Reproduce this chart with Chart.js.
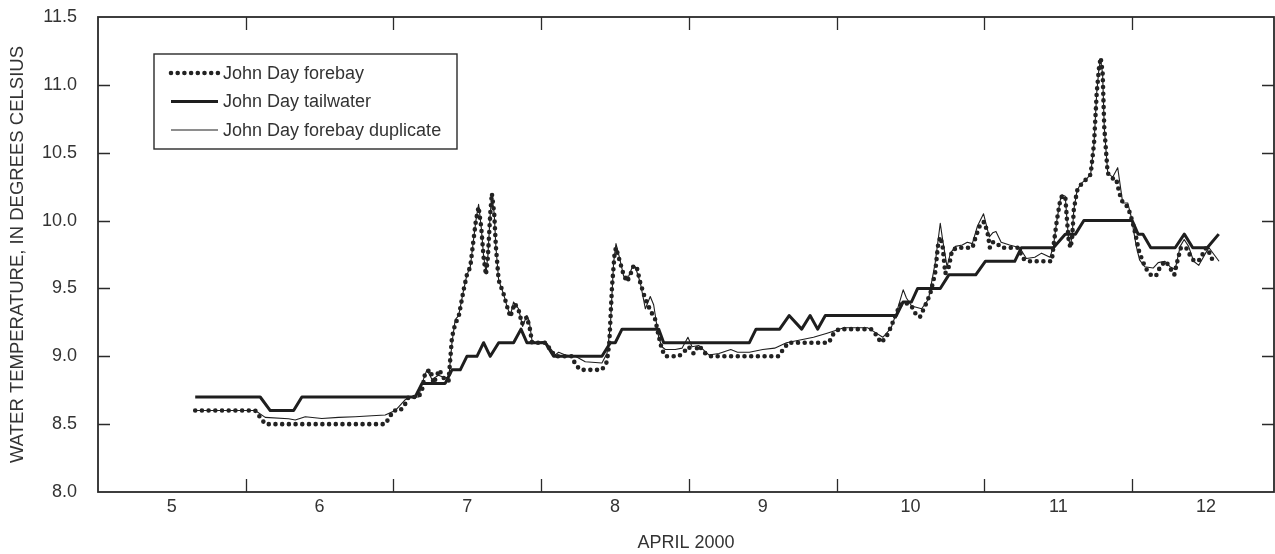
<!DOCTYPE html>
<html>
<head>
<meta charset="utf-8">
<script src="https://cdn.jsdelivr.net/npm/chart.js@4.4.1/dist/chart.umd.min.js"></script>
<style>
html,body{margin:0;padding:0;background:#ffffff;}
#wrap{width:1275px;height:554px;position:relative;}
</style>
</head>
<body>
<div id="wrap"><canvas id="c" width="1275" height="554"></canvas></div>
<script>
// ---- axis labels / ticks ----
const dayLabels = ['5','6','7','8','9','10','11','12'];
const dayLabelPos = [5.5, 6.5, 7.5, 8.5, 9.5, 10.5, 11.5, 12.5];
const dayBoundaries = [6, 7, 8, 9, 10, 11, 12];
const tempTicks = [8.0, 8.5, 9.0, 9.5, 10.0, 10.5, 11.0, 11.5];
const xMin = 5, xMax = 12.96;
const yMin = 8.0, yMax = 11.5;

// ---- John Day tailwater (day of April 2000, deg C) ----
const tailDay = [5.658,6.098,6.166,6.324,6.380,7.147,7.193,7.350,7.396,7.452,7.497,7.565,7.610,7.655,7.712,7.813,7.863,7.903,8.028,8.084,8.411,8.468,8.501,8.547,8.795,8.829,9.409,9.454,9.614,9.678,9.763,9.820,9.871,9.923,10.404,10.449,10.506,10.548,10.701,10.759,10.941,11.006,11.205,11.250,11.467,11.547,11.616,11.673,12.000,12.040,12.073,12.126,12.291,12.353,12.410,12.508,12.586];
const tailTemp = [8.7,8.7,8.6,8.6,8.7,8.7,8.8,8.8,8.9,8.9,9.0,9.0,9.1,9.0,9.1,9.1,9.2,9.1,9.1,9.0,9.0,9.1,9.1,9.2,9.2,9.1,9.1,9.2,9.2,9.3,9.2,9.3,9.2,9.3,9.3,9.4,9.4,9.5,9.5,9.6,9.6,9.7,9.7,9.8,9.8,9.9,9.9,10.0,10.0,9.9,9.9,9.8,9.8,9.9,9.8,9.8,9.9];

// ---- John Day forebay ----
const foreDay = [5.658,6.064,6.132,6.944,6.967,7.000,7.046,7.080,7.102,7.170,7.193,7.215,7.250,7.272,7.310,7.350,7.373,7.396,7.418,7.441,7.475,7.497,7.520,7.542,7.558,7.576,7.594,7.610,7.626,7.639,7.655,7.666,7.682,7.693,7.712,7.745,7.768,7.791,7.820,7.847,7.870,7.903,7.926,7.937,7.982,8.028,8.061,8.095,8.208,8.231,8.265,8.411,8.445,8.461,8.479,8.497,8.506,8.524,8.558,8.581,8.603,8.626,8.648,8.671,8.705,8.738,8.772,8.795,8.817,8.840,8.930,8.964,8.998,9.032,9.066,9.112,9.146,9.603,9.638,9.672,9.947,9.980,10.015,10.233,10.266,10.300,10.335,10.369,10.404,10.438,10.473,10.506,10.541,10.564,10.598,10.633,10.666,10.685,10.701,10.717,10.735,10.759,10.781,10.815,10.919,10.941,10.975,10.999,11.021,11.037,11.056,11.079,11.113,11.227,11.261,11.296,11.456,11.467,11.490,11.513,11.525,11.547,11.559,11.570,11.582,11.593,11.605,11.627,11.650,11.685,11.719,11.742,11.760,11.776,11.787,11.800,11.811,11.834,11.868,11.891,11.914,11.937,11.971,12.000,12.022,12.045,12.068,12.091,12.126,12.160,12.194,12.228,12.262,12.285,12.308,12.330,12.365,12.399,12.421,12.456,12.501,12.524,12.547];
const foreTemp = [8.6,8.6,8.5,8.5,8.54,8.6,8.6,8.65,8.7,8.7,8.75,8.88,8.9,8.8,8.9,8.82,8.82,9.14,9.24,9.29,9.49,9.6,9.66,9.86,10.0,10.1,9.95,9.73,9.6,9.73,10.05,10.2,10.05,9.81,9.56,9.46,9.37,9.29,9.39,9.34,9.24,9.29,9.19,9.1,9.1,9.1,9.05,9.0,9.0,8.94,8.9,8.9,8.96,9.1,9.51,9.76,9.8,9.73,9.6,9.55,9.6,9.67,9.65,9.54,9.42,9.34,9.27,9.15,9.05,9.0,9.0,9.03,9.07,9.02,9.08,9.02,9.0,9.0,9.05,9.1,9.1,9.17,9.2,9.2,9.16,9.1,9.14,9.22,9.32,9.39,9.39,9.37,9.3,9.29,9.37,9.46,9.61,9.81,9.88,9.81,9.61,9.66,9.78,9.8,9.8,9.88,9.98,9.99,9.91,9.8,9.84,9.84,9.8,9.8,9.72,9.7,9.7,9.81,10.0,10.15,10.18,10.18,10.0,9.86,9.8,9.86,10.08,10.22,10.26,10.3,10.34,10.57,10.94,11.13,11.2,11.09,10.69,10.35,10.31,10.31,10.2,10.13,10.1,10.0,9.9,9.78,9.71,9.65,9.6,9.59,9.67,9.7,9.64,9.6,9.71,9.8,9.8,9.73,9.7,9.71,9.8,9.76,9.7];

// ---- John Day forebay duplicate ----
const dupDay = [5.658,6.064,6.132,6.290,6.335,6.403,6.515,6.628,6.741,6.854,6.944,7.012,7.080,7.113,7.170,7.193,7.226,7.260,7.305,7.350,7.375,7.396,7.418,7.441,7.475,7.497,7.520,7.542,7.558,7.576,7.594,7.610,7.626,7.639,7.655,7.666,7.682,7.693,7.712,7.745,7.768,7.791,7.813,7.847,7.874,7.903,7.919,7.937,7.960,8.028,8.061,8.095,8.118,8.163,8.231,8.298,8.411,8.445,8.468,8.490,8.506,8.529,8.558,8.592,8.614,8.637,8.671,8.705,8.738,8.761,8.795,8.817,8.840,8.908,8.953,8.993,9.021,9.066,9.134,9.203,9.283,9.329,9.409,9.500,9.580,9.660,9.752,9.843,9.935,10.049,10.209,10.255,10.312,10.369,10.404,10.450,10.472,10.507,10.575,10.621,10.667,10.701,10.717,10.747,10.770,10.804,10.850,10.884,10.918,10.953,10.994,11.033,11.056,11.078,11.113,11.170,11.239,11.284,11.341,11.387,11.444,11.467,11.490,11.513,11.525,11.547,11.559,11.570,11.582,11.593,11.605,11.627,11.650,11.685,11.719,11.742,11.760,11.776,11.787,11.800,11.811,11.834,11.845,11.868,11.902,11.936,11.970,11.993,12.028,12.050,12.085,12.142,12.176,12.222,12.256,12.291,12.325,12.352,12.382,12.416,12.451,12.497,12.520,12.554,12.588];
const dupTemp = [8.6,8.6,8.55,8.54,8.53,8.555,8.542,8.55,8.555,8.562,8.567,8.6,8.68,8.7,8.7,8.8,8.9,8.83,8.86,8.84,8.85,9.1,9.27,9.3,9.49,9.6,9.66,9.86,10.0,10.12,9.95,9.74,9.62,9.74,10.05,10.19,10.05,9.81,9.56,9.46,9.37,9.3,9.4,9.35,9.22,9.3,9.26,9.12,9.1,9.11,9.06,9.01,9.03,9.01,9.0,8.96,8.95,9.02,9.22,9.69,9.83,9.73,9.59,9.59,9.65,9.66,9.54,9.35,9.44,9.38,9.14,9.07,9.05,9.05,9.06,9.14,9.07,9.08,9.01,9.02,9.05,9.03,9.03,9.05,9.06,9.1,9.12,9.14,9.17,9.21,9.21,9.18,9.14,9.21,9.32,9.49,9.43,9.37,9.35,9.42,9.69,9.98,9.86,9.66,9.76,9.81,9.82,9.84,9.83,9.96,10.05,9.88,9.91,9.92,9.84,9.82,9.8,9.72,9.73,9.76,9.73,9.81,10.0,10.15,10.19,10.18,10.0,9.86,9.82,9.88,10.08,10.22,10.27,10.3,10.34,10.57,10.94,11.13,11.18,11.08,10.69,10.36,10.34,10.32,10.39,10.13,10.13,10.03,9.81,9.71,9.66,9.65,9.69,9.7,9.66,9.64,9.81,9.86,9.81,9.7,9.67,9.76,9.8,9.75,9.7];

const FONT = '"Liberation Sans", Arial, Helvetica, sans-serif';
const INK = '#2a2a2a';
const TXT = '#333333';

function pts(xs, ys) { return xs.map((d, i) => ({ x: d, y: ys[i] })); }

const frameAndLegend = {
  id: 'frameAndLegend',
  afterDatasetsDraw(chart) {
    const { ctx, chartArea: a, scales } = chart;
    const x = scales.x, y = scales.y;
    ctx.save();
    // frame
    ctx.strokeStyle = INK;
    ctx.lineWidth = 1.8;
    ctx.setLineDash([]);
    ctx.strokeRect(a.left, a.top, a.right - a.left, a.bottom - a.top);
    // inward tick marks
    ctx.lineWidth = 1.3;
    ctx.beginPath();
    dayBoundaries.forEach(d => {
      const px = Math.round(x.getPixelForValue(d)) + 0.5;
      ctx.moveTo(px, a.bottom); ctx.lineTo(px, a.bottom - 13);
      ctx.moveTo(px, a.top); ctx.lineTo(px, a.top + 13);
    });
    tempTicks.slice(1, -1).forEach(t => {
      const py = Math.round(y.getPixelForValue(t)) + 0.5;
      ctx.moveTo(a.left, py); ctx.lineTo(a.left + 12, py);
      ctx.moveTo(a.right, py); ctx.lineTo(a.right - 12, py);
    });
    ctx.stroke();

    // legend box
    const bx = a.left + 56, by = a.top + 37, bw = 303, bh = 95;
    ctx.fillStyle = '#ffffff';
    ctx.fillRect(bx, by, bw, bh);
    ctx.lineWidth = 1.4;
    ctx.strokeStyle = INK;
    ctx.strokeRect(bx, by, bw, bh);
    const rows = [by + 19, by + 47.5, by + 76];
    chart.data.datasets.forEach((ds, i) => {
      const ry = rows[i];
      ctx.save();
      ctx.strokeStyle = ds.borderColor;
      ctx.lineWidth = ds.borderWidth;
      ctx.lineCap = ds.borderCapStyle || 'butt';
      ctx.setLineDash(ds.borderDash || []);
      ctx.beginPath();
      ctx.moveTo(bx + 17, ry);
      ctx.lineTo(bx + 64, ry);
      ctx.stroke();
      ctx.restore();
      ctx.fillStyle = TXT;
      ctx.font = '18px ' + FONT;
      ctx.textBaseline = 'middle';
      ctx.textAlign = 'left';
      ctx.fillText(ds.label, bx + 69, ry + 1);
    });
    ctx.restore();
  }
};

new Chart(document.getElementById('c').getContext('2d'), {
  type: 'line',
  data: {
    datasets: [
      { label: 'John Day forebay', data: pts(foreDay, foreTemp), borderColor: '#222222',
        borderWidth: 4.6, borderDash: [0, 6.7], borderCapStyle: 'round', borderJoinStyle: 'round',
        pointRadius: 0, tension: 0, fill: false },
      { label: 'John Day tailwater', data: pts(tailDay, tailTemp), borderColor: '#1e1e1e',
        borderWidth: 3, borderJoinStyle: 'round', borderCapStyle: 'butt',
        pointRadius: 0, tension: 0, fill: false },
      { label: 'John Day forebay duplicate', data: pts(dupDay, dupTemp), borderColor: '#1e1e1e',
        borderWidth: 1.1, borderJoinStyle: 'round',
        pointRadius: 0, tension: 0, fill: false }
    ]
  },
  options: {
    responsive: false,
    animation: false,
    devicePixelRatio: 1,
    layout: { padding: { top: 17, right: 1, left: 0, bottom: 0 } },
    plugins: { legend: { display: false }, tooltip: { enabled: false } },
    scales: {
      x: {
        type: 'linear', min: xMin, max: xMax,
        grid: { display: false, drawTicks: false },
        border: { display: false },
        afterBuildTicks: s => { s.ticks = dayLabelPos.map(v => ({ value: v })); },
        afterFit: s => { s.height = 62; s.paddingLeft = 0; s.paddingRight = 0; },
        ticks: { autoSkip: false, maxRotation: 0, minRotation: 0, padding: 4, color: TXT,
                 font: { size: 18, family: FONT },
                 callback: (v, i) => dayLabels[i] },
        title: { display: true, text: 'APRIL 2000', color: TXT,
                 font: { size: 18, family: FONT }, padding: { top: 0, bottom: 0 } }
      },
      y: {
        min: yMin, max: yMax,
        grid: { display: false, drawTicks: false },
        border: { display: false },
        afterBuildTicks: s => { s.ticks = tempTicks.map(v => ({ value: v })); },
        afterFit: s => { s.width = 98; s.paddingTop = 0; s.paddingBottom = 0; },
        ticks: { padding: 21, color: TXT, font: { size: 18, family: FONT },
                 callback: v => Number(v).toFixed(1) },
        title: { display: true, text: 'WATER TEMPERATURE, IN DEGREES CELSIUS', color: TXT,
                 font: { size: 18.5, family: FONT }, padding: { top: 7, bottom: 0 } }
      }
    }
  },
  plugins: [frameAndLegend]
});
</script>
</body>
</html>
